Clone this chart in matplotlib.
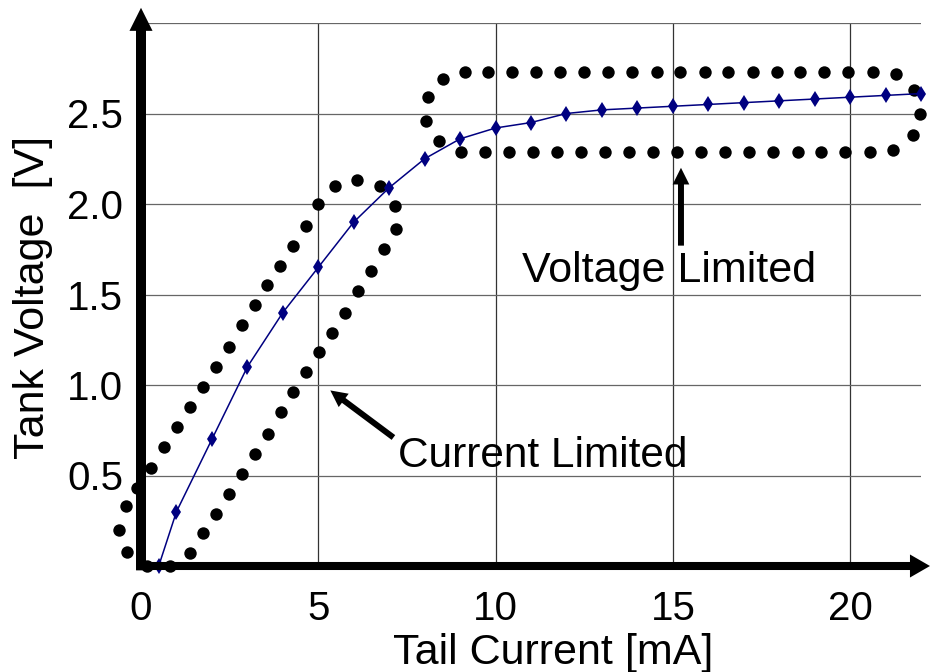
import matplotlib
matplotlib.use('Agg')
import matplotlib.pyplot as plt

plt.rcParams['font.family'] = ['Liberation Sans', 'DejaVu Sans']

# tank voltage vs tail current (blue curve)
tail_current = [0.5, 1, 2, 3, 4, 5, 6, 7, 8, 9, 10, 11, 12, 13, 14, 15, 16, 17, 18, 19, 20, 21, 22]
tank_voltage = [0.0, 0.30, 0.70, 1.10, 1.40, 1.65, 1.90, 2.09, 2.25, 2.36, 2.42, 2.45, 2.50,
                2.52, 2.53, 2.54, 2.55, 2.56, 2.57, 2.58, 2.59, 2.60, 2.61]

# dotted outline around the current limited region
cur_x = [0.16, -0.40, -0.62, -0.42, -0.11, 0.28, 0.65, 1.01, 1.37, 1.74, 2.11, 2.48, 2.84, 3.21,
         3.55, 3.93, 4.28, 4.66, 5.00, 5.46, 6.09, 6.73, 7.15, 7.18, 6.86, 6.48, 6.13, 5.76,
         5.40, 5.03, 4.66, 4.30, 3.94, 3.58, 3.22, 2.86, 2.49, 2.12, 1.74, 1.38, 0.82]
cur_y = [0.0, 0.08, 0.20, 0.33, 0.43, 0.54, 0.66, 0.77, 0.88, 0.99, 1.10, 1.21, 1.33, 1.44,
         1.55, 1.66, 1.77, 1.88, 2.00, 2.10, 2.13, 2.10, 1.99, 1.86, 1.75, 1.63, 1.52, 1.40,
         1.29, 1.18, 1.07, 0.96, 0.85, 0.73, 0.62, 0.51, 0.40, 0.29, 0.18, 0.07, 0.0]

# dotted outline around the voltage limited region
volt_x = [9.13, 9.79, 10.47, 11.15, 11.82, 12.49, 13.16, 13.84, 14.54, 15.21, 15.90, 16.57,
          17.25, 17.93, 18.60, 19.27, 19.95, 20.64,
          21.30, 21.81, 21.98, 21.78, 21.22,
          20.55, 19.87, 19.18, 18.52, 17.83, 17.16, 16.47, 15.79, 15.13, 14.44, 13.77, 13.10,
          12.40, 11.72, 11.05, 10.38, 9.70, 9.03,
          8.40, 8.05, 8.10, 8.52]
volt_y = [2.73] * 18 + [2.72, 2.63, 2.50, 2.38, 2.30] + [2.29] * 18 + [2.35, 2.46, 2.59, 2.69]

x_ticks = [0, 5, 10, 15, 20]
y_ticks = [0.5, 1.0, 1.5, 2.0, 2.5, 3.0]
y_labels = ['0.5', '1.0', '1.5', '2.0', '2.5', '']

fig = plt.figure(figsize=(9.3, 6.72), dpi=100)
ax = fig.add_axes([141 / 930, 106 / 672, 780 / 930, 543 / 672])
ax.set_xlim(0, 22)
ax.set_ylim(0, 3.0)
for s in ax.spines.values():
    s.set_visible(False)

ax.set_xticks(x_ticks)
ax.set_yticks(y_ticks)
ax.set_yticklabels(y_labels)
ax.tick_params(length=0, labelsize=29)
ax.tick_params(axis='x', pad=17)
ax.tick_params(axis='y', pad=13)
ax.grid(axis='x', color='#333333', lw=0.9)
ax.grid(axis='y', color='#666666', lw=0.9)

ax.scatter(cur_x, cur_y, s=80, color='black', zorder=3, clip_on=False, lw=0)
ax.scatter(volt_x, volt_y, s=80, color='black', zorder=3, clip_on=False, lw=0)
ax.plot(tail_current, tank_voltage, color='#000080', lw=1.1, marker='d', ms=8,
        mew=0, zorder=4, clip_on=False)

# axes as thick arrows
ax.annotate('', xy=(0, 1.028), xycoords='axes fraction', xytext=(0, -0.008),
            arrowprops=dict(arrowstyle='simple,head_length=16.6,head_width=16.6,tail_width=7.2',
                            mutation_scale=1, fc='k', ec='k', lw=0, shrinkA=0, shrinkB=0),
            annotation_clip=False, zorder=5)
ax.annotate('', xy=(1.0115, 0), xycoords='axes fraction', xytext=(-0.005, 0),
            arrowprops=dict(arrowstyle='simple,head_length=14.4,head_width=16.6,tail_width=5.8',
                            mutation_scale=1, fc='k', ec='k', lw=0, shrinkA=0, shrinkB=0),
            annotation_clip=False, zorder=5)

# region labels
arrow_kw = dict(arrowstyle='simple,head_length=12,head_width=12,tail_width=4.3',
                mutation_scale=1, fc='k', ec='k', lw=0, shrinkA=0, shrinkB=0)
ax.annotate('', xy=(15.23, 2.20), xytext=(15.23, 1.77), arrowprops=arrow_kw, zorder=5)
ax.text(10.76, 1.57, 'Voltage Limited', fontsize=31, ha='left', va='baseline')
ax.annotate('', xy=(5.34, 0.97), xytext=(7.12, 0.71), arrowprops=arrow_kw, zorder=5)
ax.text(7.26, 0.547, 'Current Limited', fontsize=30.5, ha='left', va='baseline')

fig.text(33 / 930, 1 - 297 / 672, 'Tank Voltage  [V]', fontsize=31, rotation=90,
         ha='center', va='center')
fig.text(553 / 930, 1 - 653 / 672, 'Tail Current [mA]', fontsize=31, ha='center', va='center')

fig.savefig('out.png', dpi=100)
